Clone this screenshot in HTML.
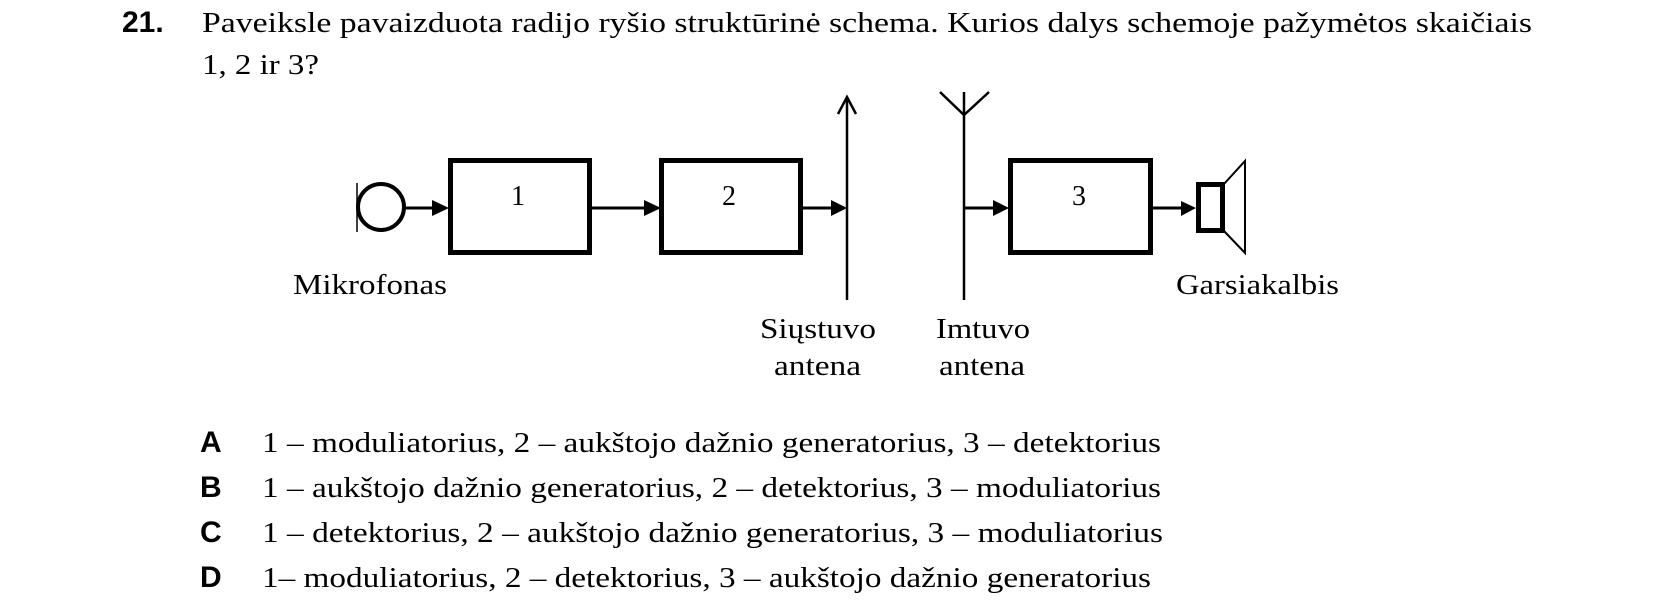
<!DOCTYPE html>
<html><head><meta charset="utf-8"><style>
html,body{margin:0;padding:0;background:#fff;}
svg{display:block;}
.s{font-family:"Liberation Serif",serif;fill:#000;}
.b{font-family:"Liberation Sans",sans-serif;font-weight:bold;fill:#000;}
</style></head><body>
<svg width="1654" height="604" viewBox="0 0 1654 604" xmlns="http://www.w3.org/2000/svg">
<text class="b" x="122" y="32" font-size="30">21.</text>
<text class="s" x="202" y="32" font-size="28" textLength="1330" lengthAdjust="spacingAndGlyphs">Paveiksle pavaizduota radijo ryšio struktūrinė schema. Kurios dalys schemoje pažymėtos skaičiais</text>
<text class="s" x="202" y="74" font-size="28" textLength="117" lengthAdjust="spacingAndGlyphs">1, 2 ir 3?</text>

<g stroke="#000" fill="none">
<circle cx="381" cy="207" r="23" stroke-width="4"/>
<line x1="357" y1="183" x2="357" y2="232" stroke-width="1.5"/>
<line x1="405" y1="208" x2="434" y2="208" stroke-width="3"/>
<rect x="450.5" y="160.5" width="139" height="92" stroke-width="5"/>
<rect x="661.5" y="160.5" width="139" height="92" stroke-width="5"/>
<rect x="1010.5" y="160.5" width="140" height="92" stroke-width="5"/>
<line x1="592" y1="208" x2="646" y2="208" stroke-width="3"/>
<line x1="803" y1="208" x2="832" y2="208" stroke-width="3"/>
<line x1="964" y1="208" x2="994" y2="208" stroke-width="3"/>
<line x1="1153" y1="208" x2="1182" y2="208" stroke-width="3"/>
<line x1="847" y1="97" x2="847" y2="300" stroke-width="2.5"/>
<polyline points="838,114 847,97 856,114" stroke-width="2.5"/>
<line x1="964" y1="92" x2="964" y2="300" stroke-width="2.5"/>
<polyline points="940,92 964,115 989,92" stroke-width="2.5"/>
<rect x="1198.5" y="184.5" width="24" height="46" stroke-width="5"/>
<polyline points="1224,184 1245,161 1245,253 1224,231" stroke-width="2"/>
</g>
<g fill="#000">
<polygon points="432,200 449,208 432,216"/>
<polygon points="644,200 661,208 644,216"/>
<polygon points="831,200 847,208 831,216"/>
<polygon points="993,200 1009,208 993,216"/>
<polygon points="1181,201 1196,208 1181,216"/>
</g>
<text class="s" x="518" y="205" font-size="28" text-anchor="middle">1</text>
<text class="s" x="729" y="205" font-size="28" text-anchor="middle">2</text>
<text class="s" x="1079" y="205" font-size="28" text-anchor="middle">3</text>

<text class="s" x="293" y="294" font-size="28" textLength="154" lengthAdjust="spacingAndGlyphs">Mikrofonas</text>
<text class="s" x="1176" y="294" font-size="28" textLength="163" lengthAdjust="spacingAndGlyphs">Garsiakalbis</text>
<text class="s" x="760" y="338" font-size="28" textLength="116" lengthAdjust="spacingAndGlyphs">Siųstuvo</text>
<text class="s" x="774" y="375" font-size="28" textLength="87" lengthAdjust="spacingAndGlyphs">antena</text>
<text class="s" x="936" y="338" font-size="28" textLength="94" lengthAdjust="spacingAndGlyphs">Imtuvo</text>
<text class="s" x="939" y="375" font-size="28" textLength="86" lengthAdjust="spacingAndGlyphs">antena</text>

<text class="b" x="200" y="452" font-size="30">A</text>
<text class="b" x="200" y="497" font-size="30">B</text>
<text class="b" x="200" y="542" font-size="30">C</text>
<text class="b" x="200" y="587" font-size="30">D</text>
<text class="s" x="262" y="452" font-size="28" textLength="899" lengthAdjust="spacingAndGlyphs">1 – moduliatorius, 2 – aukštojo dažnio generatorius, 3 – detektorius</text>
<text class="s" x="262" y="497" font-size="28" textLength="899" lengthAdjust="spacingAndGlyphs">1 – aukštojo dažnio generatorius, 2 – detektorius, 3 – moduliatorius</text>
<text class="s" x="262" y="542" font-size="28" textLength="901" lengthAdjust="spacingAndGlyphs">1 – detektorius, 2 – aukštojo dažnio generatorius, 3 – moduliatorius</text>
<text class="s" x="262" y="587" font-size="28" textLength="889" lengthAdjust="spacingAndGlyphs">1– moduliatorius, 2 – detektorius, 3 – aukštojo dažnio generatorius</text>
</svg>
</body></html>
